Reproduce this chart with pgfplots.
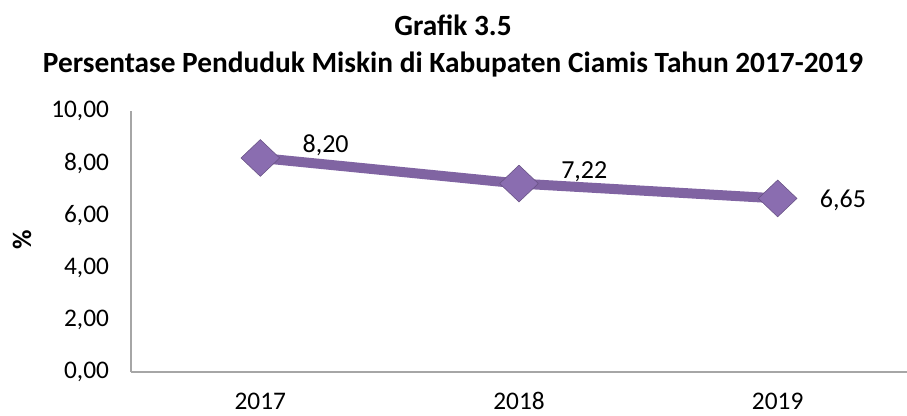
\documentclass[border=0pt]{standalone}
\usepackage{pgfplots}
\pgfplotsset{compat=1.18}
\usepackage{pgfplotstable}
\usepackage{fontspec}
\setmainfont{Carlito}
\definecolor{linepurple}{HTML}{8064A2}
\definecolor{markpurple}{HTML}{8A6DB0}
\definecolor{axisgray}{HTML}{A6A6A6}

% year index, value, label, label y shift (pt)
\pgfplotstableread{
x y lab dy
0 8.20 8,20 9.75
1 7.22 7,22 9.0
2 6.65 6,65 -1.5
}\miskin

\begin{document}
\begin{tikzpicture}
\begin{axis}[
    at={(98.25pt,33pt)}, anchor=south west,
    scale only axis,
    width=582pt, height=195.75pt,
    xmin=-0.5, xmax=2.5,
    ymin=0, ymax=10,
    axis x line*=bottom, axis y line*=left,
    axis line style={-, draw=axisgray, line width=0.9pt},
    major tick length=0pt,
    xtick={0,1,2}, xticklabels={2017,2018,2019},
    ytick={0,2,4,6,8,10},
    y tick label style={/pgf/number format/fixed, /pgf/number format/fixed zerofill,
        /pgf/number format/precision=2, /pgf/number format/use comma,
        /pgf/number format/assume math mode=true, xshift=-13pt},
    tick label style={font=\fontsize{19}{22}\selectfont, text=black},
    xticklabel style={anchor=base, inner sep=0pt, yshift=-28.3pt},
    clip=false,
]
\addplot[
    line width=7.5pt, color=linepurple,
    mark=diamond*, mark size=13.8pt,
    mark options={xscale=1.4, fill=markpurple, draw=linepurple!80!black, line width=0.4pt},
    point meta=explicit symbolic,
    visualization depends on={\thisrow{dy} \as \dy},
    nodes near coords,
    every node near coord/.append style={anchor=west, inner sep=0pt, xshift=31.5pt, yshift=\dy pt,
        font=\fontsize{19.5}{22}\selectfont, text=black},
] table[x=x, y=y, meta=lab] {\miskin};
\end{axis}
\node[font=\fontsize{22}{26}\selectfont\bfseries, anchor=base] at (339.75pt,285pt) {Grafik 3.5};
\node[font=\fontsize{22}{26}\selectfont\bfseries, anchor=base] at (339.75pt,257.25pt) {Persentase Penduduk Miskin di Kabupaten Ciamis Tahun 2017-2019};
\node[font=\fontsize{20}{24}\selectfont\bfseries, rotate=90] at (16.5pt,132pt) {\%};
\pgfresetboundingbox
\path[use as bounding box] (0,0) rectangle (680.25pt,312pt);
\end{tikzpicture}
\end{document}
